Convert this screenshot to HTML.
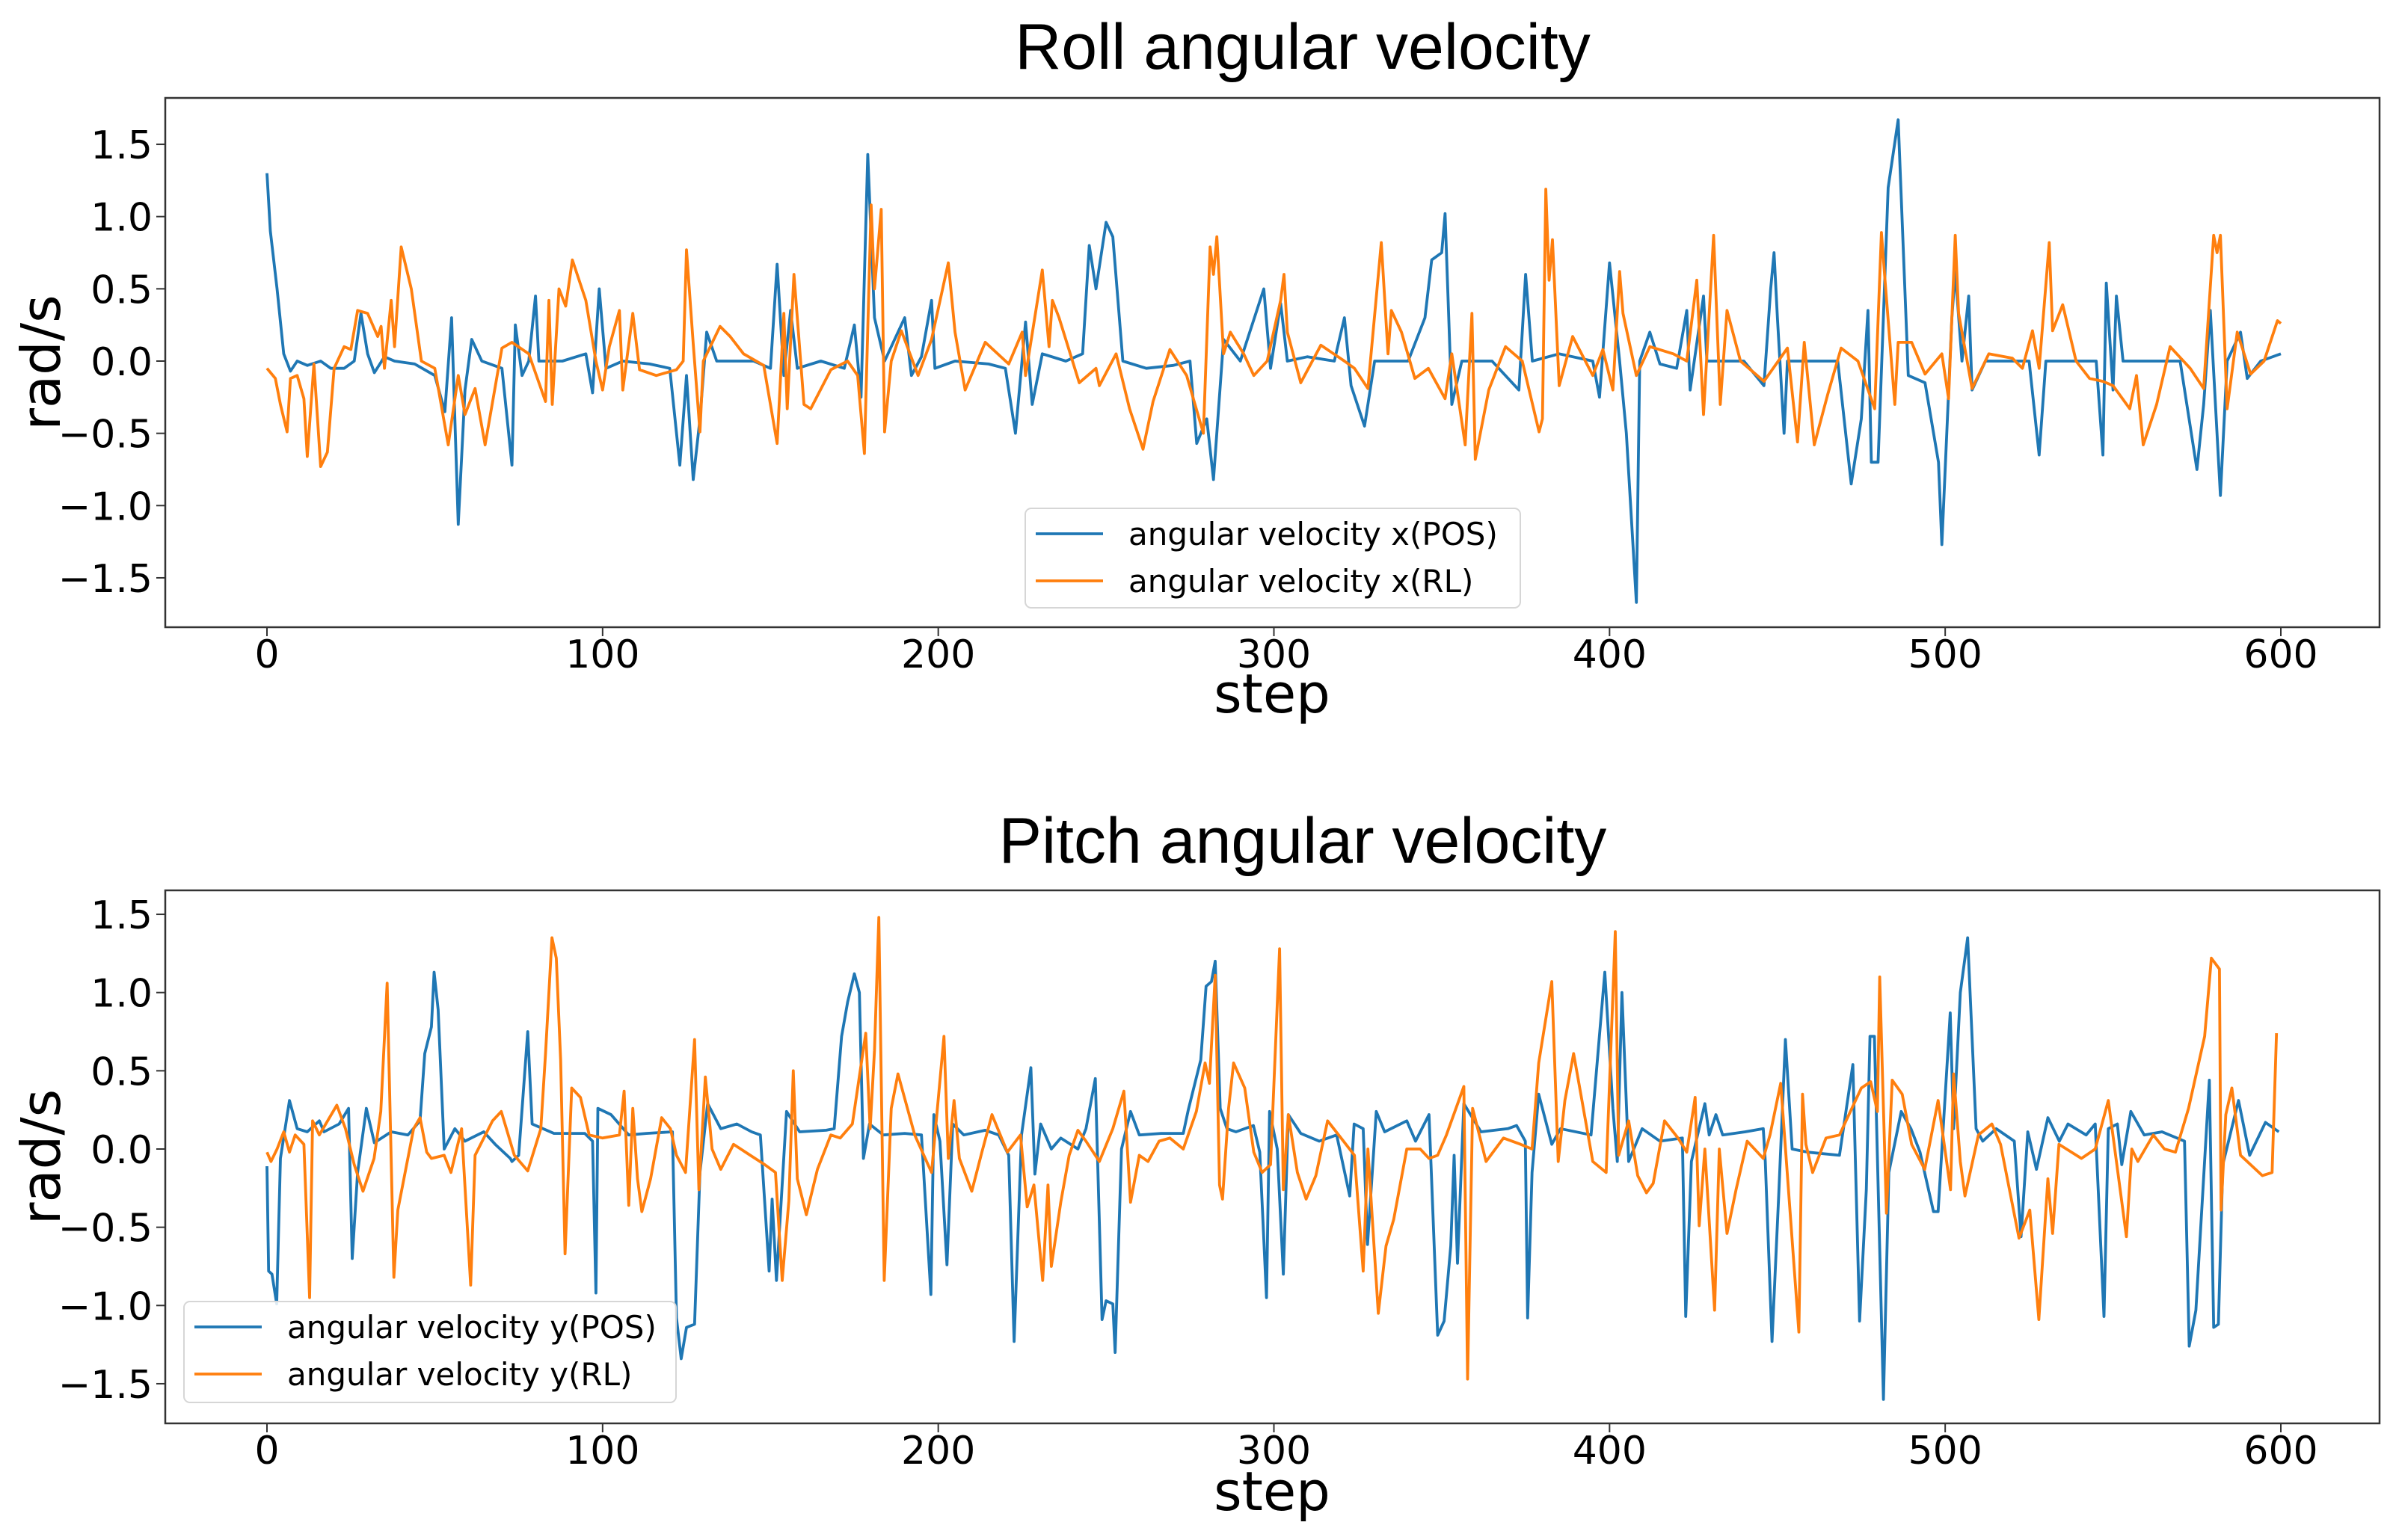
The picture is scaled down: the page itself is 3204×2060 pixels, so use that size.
<!DOCTYPE html>
<html><head><meta charset="utf-8">
<style>
html,body{margin:0;padding:0;background:#fff;}
svg{display:block;}
.tick{font-family:"DejaVu Sans","Liberation Sans",sans-serif;font-size:52px;fill:#000;}
.lab{font-family:"DejaVu Sans","Liberation Sans",sans-serif;font-size:72px;fill:#000;}
.ttl{font-family:"Liberation Sans",Arial,sans-serif;font-size:86px;fill:#000;}
.leg{font-family:"DejaVu Sans","Liberation Sans",sans-serif;font-size:42px;fill:#000;}
</style></head>
<body>
<svg id="chart" width="3204" height="2060" viewBox="0 0 3204 2060" xmlns="http://www.w3.org/2000/svg"></svg>
<script>
// ---------- Data ----------
const xTicks = [0,100,200,300,400,500,600];
const yTicks = [1.5,1.0,0.5,0.0,-0.5,-1.0,-1.5];
const yTickLabels = ["1.5","1.0","0.5","0.0","\u22120.5","\u22121.0","\u22121.5"];

const rollPosSteps = [0,1,3,5,7,9,12,16,19,23,26,28,30,32,35,38,44,50,53,55,57,59,61,64,70,73,74,76,78,80,81,88,95,97,99,101,106,114,120,123,125,127,129,131,134,145,150,152,154,156,158,165,172,175,177,179,181,184,190,192,195,198,199,205,215,220,223,226,228,231,238,243,245,247,250,252,255,262,270,275,277,280,282,285,290,297,299,302,304,310,318,321,323,327,330,340,345,347,350,351,353,356,365,373,375,377,385,395,397,400,403,405,408,409,412,415,420,423,424,428,429,440,446,448,449,450,452,453,468,472,475,477,478,480,483,486,489,494,498,499,502,503,505,507,508,512,525,528,530,545,547,548,550,551,553,570,575,577,579,582,584,588,590,594,600];
const rollPosValues = [1.30,0.90,0.50,0.05,-0.07,0.0,-0.03,0.0,-0.05,-0.05,0.0,0.33,0.05,-0.08,0.03,0.0,-0.02,-0.1,-0.35,0.3,-1.13,-0.2,0.15,0.0,-0.05,-0.72,0.25,-0.1,0.0,0.45,0.0,0.0,0.05,-0.22,0.5,-0.05,0.0,-0.02,-0.05,-0.72,-0.1,-0.82,-0.4,0.2,0.0,0.0,-0.05,0.67,-0.1,0.35,-0.05,0.0,-0.05,0.25,-0.25,1.43,0.3,0.0,0.3,-0.1,0.03,0.42,-0.05,0.0,-0.02,-0.05,-0.5,0.27,-0.3,0.05,0.0,0.05,0.8,0.5,0.96,0.86,0.0,-0.05,-0.03,0.0,-0.57,-0.4,-0.82,0.15,0.0,0.5,-0.05,0.4,0.0,0.03,0.0,0.3,-0.17,-0.45,0.0,0.0,0.3,0.7,0.75,1.02,-0.3,0.0,0.0,-0.2,0.6,0.0,0.05,0.0,-0.25,0.68,0.0,-0.5,-1.67,0.0,0.2,-0.02,-0.05,0.35,-0.2,0.45,0.0,0.0,-0.17,0.5,0.75,0.3,-0.5,0.0,0.0,-0.85,-0.4,0.35,-0.7,-0.7,1.2,1.67,-0.1,-0.15,-0.7,-1.27,0.3,0.62,0.0,0.45,-0.2,0.0,0.0,-0.65,0.0,0.0,-0.65,0.54,-0.2,0.45,0.0,0.0,-0.75,-0.3,0.35,-0.93,0.0,0.2,-0.12,0.0,0.05];

const rollRlSteps = [0,2.5,4,6,7,9,11,12,14,16,18,20,23,25,27,30,33,34,35,37,38,40,43,46,50,54,57,59,62,65,70,73,78,83,84,85,87,89,91,95,98,100,102,105,106,109,111,116,122,124,125,127,129,130,135,138,142,148,152,154,155,157,160,162,168,173,176,178,180,181,183,184,186,189,194,198,203,205,208,214,221,225,226,231,233,234,236,242,247,248,253,257,261,264,269,274,279,281,282,283,285,287,291,294,298,302,303,304,308,314,321,324,328,332,334,335,338,342,346,351,353,357,359,360,364,369,374,379,380,381,382,383,385,389,395,398,401,403,404,408,412,419,423,426,428,431,433,435,439,446,453,456,458,461,465,469,474,479,481,482,485,486,490,494,499,501,503,504,508,513,520,523,526,528,531,532,535,539,543,547,550,555,557,559,563,567,573,577,580,581,582,584,587,591,595,599,600];
const rollRlValues = [-0.05,-0.12,-0.3,-0.49,-0.12,-0.1,-0.26,-0.66,-0.02,-0.73,-0.63,-0.05,0.1,0.08,0.35,0.33,0.17,0.24,-0.05,0.42,0.1,0.79,0.5,0.0,-0.05,-0.58,-0.1,-0.37,-0.19,-0.58,0.09,0.13,0.05,-0.28,0.42,-0.3,0.5,0.38,0.7,0.42,0.0,-0.2,0.1,0.35,-0.2,0.33,-0.06,-0.1,-0.06,0.0,0.77,0.12,-0.49,0.0,0.24,0.17,0.05,-0.03,-0.57,0.33,-0.33,0.6,-0.3,-0.33,-0.06,0.0,-0.1,-0.64,1.08,0.5,1.05,-0.49,0.0,0.21,-0.1,0.15,0.68,0.2,-0.2,0.13,-0.02,0.2,-0.1,0.63,0.1,0.42,0.3,-0.15,-0.05,-0.17,0.05,-0.33,-0.61,-0.28,0.08,-0.1,-0.5,0.79,0.6,0.86,0.05,0.2,0.05,-0.1,0.0,0.42,0.6,0.2,-0.15,0.11,0.0,-0.05,-0.19,0.82,0.05,0.35,0.2,-0.12,-0.05,-0.26,0.05,-0.58,0.33,-0.68,-0.2,0.1,0.0,-0.49,-0.4,1.19,0.56,0.84,-0.17,0.17,-0.1,0.08,-0.2,0.62,0.33,-0.1,0.1,0.05,0.0,0.56,-0.37,0.87,-0.3,0.35,0.0,-0.14,0.09,-0.56,0.13,-0.58,-0.23,0.09,0.0,-0.33,0.89,0.58,-0.3,0.13,0.13,-0.09,0.05,-0.26,0.87,0.33,-0.19,0.05,0.02,-0.05,0.21,-0.05,0.82,0.21,0.39,0.0,-0.12,-0.14,-0.17,-0.33,-0.1,-0.58,-0.3,0.1,-0.05,-0.19,0.87,0.75,0.87,-0.33,0.2,-0.09,0.0,0.28,0.26];

const pitchPosSteps = [0,0.5,1.5,2.9,4,6.7,9,12,15.6,17,21.5,24.3,25.4,27,29.6,32,37,42,45.6,47,49,49.8,51,52.8,56,59,64.6,68,72.5,73,75,77.7,79,85.5,94.7,97,98,98.6,102.5,107.8,113,120.8,122,123.4,125,127.4,129,131.3,135.2,140,144.4,147,149.6,150.5,151.8,154.8,158.7,166.6,169,171.2,173,175,176.5,177.7,179.5,183.6,190,195,197.8,198.7,200.5,202.6,204.3,207.6,214,218,221,222.6,224.8,227.6,228.8,230.5,233.7,236.5,241.6,244,246.8,248,248.8,250,252,252.7,254.6,257.3,259.9,266.4,273,274.5,278.2,279.8,281.4,282.5,284,286,288.7,293.9,295.8,297.8,298.7,301,302.8,304.3,308,313.5,318.7,322.6,323.9,326.6,327.9,330.5,333,339.6,342.2,346.2,346.8,348.8,350.7,352.7,353.7,354.7,356.6,361.7,369.7,372.3,374.9,375.6,376.9,378.9,382.8,385.4,394.5,398.6,401,402.3,403.7,405.7,409.7,415,421.7,422.7,424.4,428.4,429.7,431.7,433.7,440.4,445.8,446.4,448.4,450.4,452.4,454.4,459,468.5,472.5,474.5,476.5,477.6,478.9,481.6,483.2,486.9,489.8,492.5,496.5,497.9,501.5,502.5,504.5,506.7,509.2,511.2,515.2,520.6,522.6,524.6,527.2,530.6,534,536.6,542,544.7,547.3,548.6,551.3,552.6,555.3,559.3,564.6,571.3,572.7,574.7,578.7,580,581.4,582.7,587.4,590.7,595.4,599.4];
const pitchPosValues = [-0.11,-0.78,-0.8,-0.99,-0.06,0.31,0.13,0.11,0.18,0.11,0.16,0.26,-0.7,-0.15,0.26,0.04,0.11,0.09,0.18,0.61,0.78,1.13,0.89,0.0,0.13,0.05,0.11,0.03,-0.06,-0.08,-0.04,0.75,0.16,0.1,0.1,0.05,-0.92,0.26,0.22,0.09,0.1,0.11,-1.08,-1.34,-1.14,-1.12,-0.15,0.29,0.13,0.16,0.11,0.09,-0.78,-0.32,-0.84,0.24,0.11,0.12,0.13,0.72,0.94,1.12,1.0,-0.06,0.16,0.09,0.1,0.09,-0.93,0.22,0.05,-0.74,0.16,0.09,0.12,0.09,-0.04,-1.23,0.09,0.52,-0.16,0.16,0.0,0.07,0.0,0.13,0.45,-0.47,-1.09,-0.97,-0.99,-1.3,0.0,0.24,0.09,0.1,0.1,0.25,0.57,1.04,1.07,1.2,0.26,0.13,0.11,0.15,-0.02,-0.95,0.24,0.0,-0.8,0.22,0.1,0.05,0.09,-0.3,0.16,0.13,-0.61,0.24,0.11,0.18,0.05,0.22,-0.1,-1.19,-1.1,-0.62,-0.04,-0.73,0.29,0.11,0.13,0.15,0.05,-1.08,-0.15,0.35,0.03,0.13,0.09,1.13,0.26,-0.08,1.0,-0.08,0.13,0.05,0.07,-1.07,-0.08,0.29,0.09,0.22,0.09,0.11,0.13,-0.08,-1.23,-0.3,0.7,0.0,-0.02,-0.04,0.54,-1.1,-0.26,0.72,0.72,-1.6,-0.15,0.24,0.13,-0.02,-0.4,-0.4,0.87,0.13,1.0,1.35,0.13,0.05,0.13,0.05,-0.56,0.11,-0.13,0.2,0.05,0.16,0.09,0.16,-1.07,0.13,0.16,-0.1,0.24,0.09,0.11,0.05,-1.26,-1.03,0.44,-1.14,-1.12,-0.1,0.31,-0.04,0.17,0.11];

const pitchRlSteps = [0,1.2,3,5,6.7,8.4,11,12.7,13.6,15.6,20.8,23.4,26,28.6,31.9,33.9,35.8,37.8,39,43.7,45.6,47.6,49,52.8,54.8,58,60.7,62,67.2,69.8,73.7,77.7,81.6,83,84.9,86.2,87.5,88.8,90.8,93.4,96,100,105,106.4,107.8,109,110.4,111.7,114.3,117.6,120.2,122,124.7,127.4,128.7,130.6,132.6,135.2,139,144,148.3,151.5,153.5,155.5,156.8,158,160.7,164,168,170.8,174.4,178.4,179.7,181,182.3,183.9,186,188,193,198,201.7,203,204.7,206.3,210,213,216,220.6,224.5,226.5,228.5,231.1,232.7,233.7,236.5,239,241.6,244,248,252,255.3,257.3,259.9,262.5,265.8,269,273,276.9,279.5,280.8,282.5,283.8,284.7,286.5,288,291.3,294,296.5,299,301.7,302.8,304.3,307,309.6,312.5,316,320,324,326.6,328,331.1,333.4,335.7,339.6,343.6,346.2,348.8,351.4,356.6,357.7,359.2,363.2,368.4,373.5,376.9,378.9,382.8,384.7,386.7,389.3,395,399,401.7,402.7,405.7,408.4,411,413,416.4,420.4,423,425.5,426.7,428.4,431.3,432.7,435,437.7,441,445.8,447.8,451,456.4,457.5,458.5,460.5,464.5,468.5,475,477.8,479.8,480.5,482.5,484.2,487.2,490,493.9,497.9,501.6,502.5,504.5,505.9,509.9,513.9,516.5,522,525.2,527.9,530.6,532,533.9,540.6,544.7,548.6,554,555.6,557.4,562,565.3,568.6,572.5,577.3,579.3,581.7,582.2,583.6,585.4,588,594.5,597.4,598.7,599.7];
const pitchRlValues = [-0.02,-0.08,0.0,0.11,-0.02,0.09,0.03,-0.95,0.18,0.09,0.28,0.13,-0.1,-0.27,-0.06,0.24,1.06,-0.82,-0.39,0.13,0.2,-0.02,-0.06,-0.04,-0.15,0.13,-0.87,-0.04,0.18,0.24,-0.04,-0.14,0.13,0.61,1.35,1.22,0.57,-0.67,0.39,0.33,0.09,0.07,0.09,0.37,-0.36,0.26,-0.19,-0.4,-0.19,0.2,0.13,-0.04,-0.15,0.7,-0.26,0.46,0.0,-0.13,0.03,-0.04,-0.1,-0.15,-0.84,-0.33,0.5,-0.19,-0.42,-0.13,0.09,0.07,0.16,0.74,0.13,0.63,1.48,-0.84,0.26,0.48,0.09,-0.15,0.72,-0.06,0.31,-0.06,-0.27,-0.02,0.22,-0.02,0.09,-0.37,-0.23,-0.84,-0.23,-0.75,-0.34,-0.04,0.12,0.05,-0.08,0.13,0.37,-0.34,-0.04,-0.08,0.05,0.07,0.0,0.24,0.55,0.42,1.11,-0.23,-0.32,0.26,0.55,0.39,-0.02,-0.15,-0.1,1.28,-0.26,0.22,-0.15,-0.32,-0.17,0.18,0.07,-0.04,-0.78,0.0,-1.05,-0.62,-0.45,0.0,0.0,-0.06,-0.04,0.09,0.4,-1.47,0.26,-0.08,0.07,0.03,0.0,0.55,1.07,-0.08,0.31,0.61,-0.08,-0.15,1.39,-0.04,0.18,-0.17,-0.28,-0.22,0.18,0.07,-0.02,0.33,-0.49,0.0,-1.03,0.0,-0.54,-0.26,0.05,-0.06,0.09,0.42,-1.17,0.35,0.03,-0.15,0.07,0.09,0.39,0.43,0.24,1.1,-0.41,0.44,0.35,0.03,-0.13,0.31,-0.26,0.48,-0.08,-0.3,0.09,0.16,0.03,-0.57,-0.39,-1.09,-0.19,-0.54,0.03,-0.06,0.0,0.31,-0.56,0.0,-0.08,0.09,0.0,-0.02,0.26,0.72,1.22,1.15,-0.39,0.22,0.39,-0.04,-0.17,-0.15,0.74];

// ---------- Layout ----------
const svg = document.getElementById('chart');
const NS = 'http://www.w3.org/2000/svg';
function mk(tag, attrs, parent){
  const e = document.createElementNS(NS, tag);
  for (const k in attrs) e.setAttribute(k, attrs[k]);
  (parent||svg).appendChild(e);
  return e;
}
const left = 221, right = 3182;
const xScale = s => 357 + s * (3050 - 357) / 600;

const panels = [
  {name:'roll', top:131, bottom:839, y0:483, pxPerUnit:193.3, title:'Roll angular velocity', titleY:92, tickLabelY:893, stepY:953,
   series:[{steps:rollPosSteps, vals:rollPosValues, color:'#1f77b4', label:'angular velocity x(POS)', key:'pos'},
           {steps:rollRlSteps, vals:rollRlValues, color:'#ff7f0e', label:'angular velocity x(RL)', key:'rl'}],
   legend:{x:1371, y:680, w:662, h:133}},
  {name:'pitch', top:1191, bottom:1904, y0:1537, pxPerUnit:209.3, title:'Pitch angular velocity', titleY:1154, tickLabelY:1958, stepY:2020,
   series:[{steps:pitchPosSteps, vals:pitchPosValues, color:'#1f77b4', label:'angular velocity y(POS)', key:'pos'},
           {steps:pitchRlSteps, vals:pitchRlValues, color:'#ff7f0e', label:'angular velocity y(RL)', key:'rl'}],
   legend:{x:246, y:1741, w:658, h:135}}
];

panels.forEach(p => {
  const yScale = v => p.y0 - v * p.pxPerUnit;
  const g = mk('g', {});
  
  

  const t = mk('text', {x:1742, y:p.titleY, 'text-anchor':'middle', class:'ttl'}, g);
  t.textContent = p.title;
  
  

  const clipId = 'clip-' + p.name;
  const cp = mk('clipPath', {id:clipId}, g);
  mk('rect', {x:left, y:p.top, width:right-left, height:p.bottom-p.top}, cp);

  p.series.forEach(s => {
    const pts = s.steps.map((st,i) => xScale(st).toFixed(1) + ',' + yScale(s.vals[i]).toFixed(1)).join(' ');
    const pl = mk('polyline', {points:pts, fill:'none', stroke:s.color, 'stroke-width':3.8, 'stroke-linejoin':'round', 'clip-path':'url(#'+clipId+')'}, g);
    
    
  });

  const frame = mk('rect', {x:left, y:p.top, width:right-left, height:p.bottom-p.top, fill:'none', stroke:'#333', 'stroke-width':2.5}, g);
  
  

  xTicks.forEach(v => {
    const x = xScale(v);
    mk('line', {x1:x, y1:p.bottom, x2:x, y2:p.bottom+12, stroke:'#333', 'stroke-width':2}, g);
    const tl = mk('text', {x:x, y:p.tickLabelY, 'text-anchor':'middle', class:'tick'}, g);
    tl.textContent = String(v);
    
    
  });
  yTicks.forEach((v,i) => {
    const y = yScale(v);
    mk('line', {x1:left-12, y1:y, x2:left, y2:y, stroke:'#333', 'stroke-width':2}, g);
    const tl = mk('text', {x:204, y:y+19, 'text-anchor':'end', class:'tick'}, g);
    tl.textContent = yTickLabels[i];
    
    
  });

  const xl = mk('text', {x:1701, y:p.stepY, 'text-anchor':'middle', class:'lab'}, g);
  xl.textContent = 'step';
  
  

  const cy = (p.top + p.bottom) / 2;
  const yl = mk('text', {x:0, y:0, 'text-anchor':'middle', class:'lab', transform:'translate(80,'+cy+') rotate(-90)'}, g);
  yl.textContent = 'rad/s';
  
  

  const L = p.legend;
  const lg = mk('g', {}, g);
  
  
  mk('rect', {x:L.x, y:L.y, width:L.w, height:L.h, rx:8, fill:'#fff', 'fill-opacity':0.85, stroke:'#d6d6d6', 'stroke-width':2}, lg);
  p.series.forEach((s,i) => {
    const ry = L.y + 34 + i*63;
    mk('line', {x1:L.x+14, y1:ry, x2:L.x+104, y2:ry, stroke:s.color, 'stroke-width':3.8}, lg);
    const tx = mk('text', {x:L.x+138, y:ry+15, class:'leg'}, lg);
    tx.textContent = s.label;
    
    
  });
});
</script>
</body></html>
